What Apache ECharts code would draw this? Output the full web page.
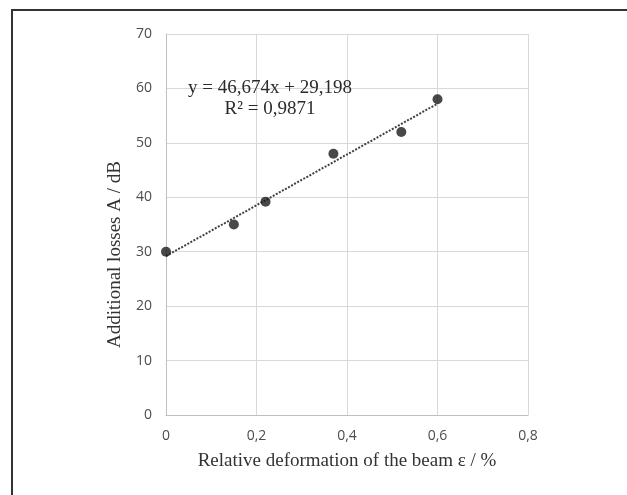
<!DOCTYPE html>
<html>
<head>
<meta charset="utf-8">
<script src="https://cdn.jsdelivr.net/npm/echarts@6/dist/echarts.min.js"></script>
<style>
  html, body { margin: 0; padding: 0; background: #fff; }
  #chart { width: 627px; height: 495px; }
</style>
</head>
<body>
<div id="chart"></div>
<script>
// measured points
var deformation = [0, 0.15, 0.22, 0.37, 0.52, 0.6]
var losses = [30, 35, 39.2, 48, 52, 58]

// linear trend shown on the chart
var slope = 46.674
var intercept = 29.198
var r2 = '0,9871'

var xTicks = [0, 0.2, 0.4, 0.6, 0.8]
var yTicks = [0, 10, 20, 30, 40, 50, 60, 70]

var points = deformation.map(function (x, i) { return [x, losses[i]] })
var xStart = deformation[0]
var xEnd = deformation[deformation.length - 1]
var trend = [[xStart, slope * xStart + intercept], [xEnd, slope * xEnd + intercept]]

function comma(v) { return String(v).replace('.', ',') }

var myChart = echarts.init(document.getElementById('chart'))

var option = {
  backgroundColor: '#fff',
  animation: false,
  grid: { left: 166, right: 99, top: 34, bottom: 80 },
  xAxis: {
    type: 'value',
    min: xTicks[0],
    max: xTicks[xTicks.length - 1],
    interval: 0.2,
    name: 'Relative deformation of the beam ε / %',
    nameLocation: 'middle',
    nameGap: 37,
    nameTextStyle: { fontFamily: 'Liberation Serif', fontSize: 19, color: '#333' },
    axisLine: { show: true, lineStyle: { color: '#bfbfbf', width: 1 } },
    axisTick: { show: false },
    axisLabel: {
      margin: 14,
      fontFamily: 'Open Sans',
      fontSize: 14,
      color: '#4d4d4d',
      formatter: function (v) { return comma(v) }
    },
    splitLine: { show: true, lineStyle: { color: '#d9d9d9', width: 1 } }
  },
  yAxis: {
    type: 'value',
    min: yTicks[0],
    max: yTicks[yTicks.length - 1],
    interval: 10,
    name: 'Additional losses A / dB',
    nameLocation: 'middle',
    nameGap: 41,
    nameTextStyle: {
      fontFamily: 'Liberation Serif',
      fontSize: 19,
      color: '#333',
      padding: [0, 60, 0, 0]
    },
    axisLine: { show: true, lineStyle: { color: '#bfbfbf', width: 1 } },
    axisTick: { show: false },
    axisLabel: { margin: 14, fontFamily: 'Open Sans', fontSize: 14, color: '#4d4d4d' },
    splitLine: { show: true, lineStyle: { color: '#d9d9d9', width: 1 } }
  },
  graphic: [
    {
      type: 'rect',
      shape: { x: 12, y: 10, width: 800, height: 700 },
      style: { fill: 'none', stroke: '#333', lineWidth: 2 },
      silent: true
    },
    {
      type: 'text',
      x: 270,
      y: 78,
      style: {
        text: 'y = ' + comma(slope) + 'x + ' + comma(intercept) + '\nR² = ' + r2,
        textAlign: 'center',
        textVerticalAlign: 'top',
        fontFamily: 'Liberation Serif',
        fontSize: 19,
        lineHeight: 21,
        fill: '#2b2b2b'
      },
      z: 10
    }
  ],
  series: [
    {
      name: 'trend',
      type: 'line',
      data: trend,
      symbol: 'none',
      lineStyle: { color: '#404040', width: 2, type: [2, 1.5] },
      z: 2
    },
    {
      name: 'A',
      type: 'scatter',
      data: points,
      symbol: 'circle',
      symbolSize: 10,
      itemStyle: { color: '#1a1a1a' },
      z: 3
    }
  ]
}

myChart.setOption(option)
</script>
</body>
</html>
